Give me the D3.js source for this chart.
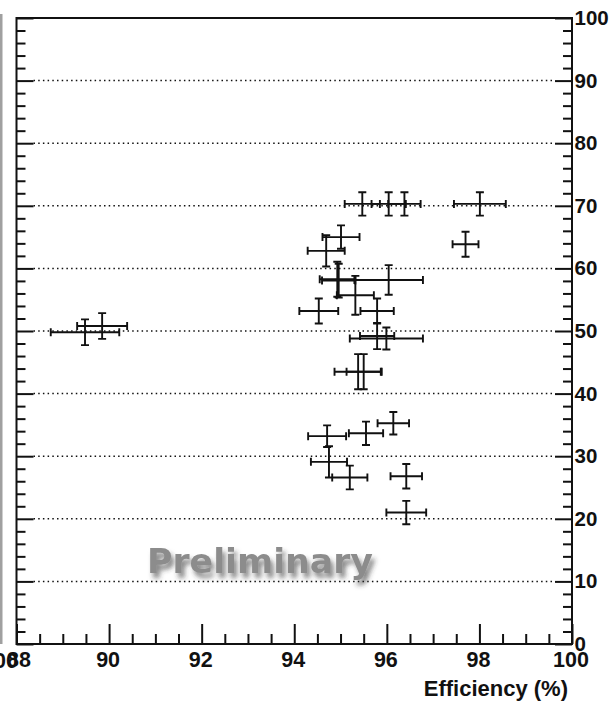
<!DOCTYPE html>
<html>
<head>
<meta charset="utf-8">
<script src="https://cdn.jsdelivr.net/npm/d3@7"></script>
<style>
  html, body { margin: 0; padding: 0; background: #fff; overflow: hidden; }
  svg { display: block; }
  .tick text { font-family: "Liberation Sans", Arial, sans-serif; font-weight: bold; font-size: 21.5px; fill: #111; }
  .yaxis .tick text { font-size: 20.5px; }
</style>
</head>
<body>
<svg id="chart" width="610" height="702"></svg>
<script>
// Efficiency measurements with their uncertainties
const effX = [95.47, 96.04, 96.38, 98.01, 97.70, 95.01, 94.69, 94.93, 94.96, 96.04, 95.32, 95.79, 94.53, 95.79, 95.99, 95.38, 95.50, 89.48, 89.85, 94.71, 95.55, 96.14, 94.75, 95.20, 96.42, 96.42];
const effY = [70.3, 70.3, 70.3, 70.3, 63.85, 65.0, 62.8, 58.26, 58.05, 58.15, 55.7, 53.2, 53.2, 49.2, 48.8, 43.5, 43.5, 49.8, 50.8, 33.2, 33.66, 35.26, 29.1, 26.6, 26.8, 21.0];
const errX = [0.38, 0.37, 0.35, 0.56, 0.28, 0.40, 0.40, 0.38, 0.36, 0.74, 0.40, 0.36, 0.42, 0.37, 0.79, 0.51, 0.37, 0.74, 0.54, 0.41, 0.37, 0.34, 0.39, 0.38, 0.34, 0.43];
const errY = [1.87, 1.87, 1.87, 1.87, 2.0, 1.87, 2.5, 2.8, 2.7, 2.37, 3.1, 2.0, 2.0, 2.1, 1.75, 2.8, 2.8, 2.05, 2.05, 1.73, 1.86, 1.8, 2.5, 1.9, 1.95, 1.86];

const xMajorTicks = [88, 90, 92, 94, 96, 98, 100];
const yMajorTicks = [0, 10, 20, 30, 40, 50, 60, 70, 80, 90, 100];
const gridValues = [10, 20, 30, 40, 50, 60, 70, 80, 90];
const xTitle = "Efficiency (%)";
const stamp = "Preliminary";

const svg = d3.select("#chart");
const x = d3.scaleLinear().domain([88, 100]).range([16.5, 572]);
const y = d3.scaleLinear().domain([0, 100]).range([644, 18]);

// edge of the neighbouring panel and its last axis label
svg.append("rect").attr("x", 0).attr("y", 14).attr("width", 2.5).attr("height", 630)
  .attr("fill", "#a0a0a0");
svg.append("text").attr("x", 0).attr("y", 668)
  .attr("text-anchor", "middle")
  .style("font-family", "Liberation Sans, Arial, sans-serif").style("font-weight", "bold")
  .style("font-size", "21.5px").attr("fill", "#111").text("100");

// dotted grid
svg.append("g").selectAll("line").data(gridValues).join("line")
  .attr("x1", x(88) + 17).attr("x2", x(100) - 17)
  .attr("y1", d => y(d)).attr("y2", d => y(d))
  .attr("stroke", "#111").attr("stroke-width", 1.5)
  .attr("stroke-dasharray", "1.5 3.2");

const minorX = d3.range(88, 100.01, 0.5).filter(v => Math.abs(v % 2) > 1e-6);
const minorY = d3.range(0, 100.01, 2).filter(v => v % 10 !== 0);

function styleAxis(g) {
  g.select(".domain").remove();
  g.selectAll(".tick line").attr("stroke", "#111").attr("stroke-width", 2);
}

// bottom axis
svg.append("g").attr("transform", `translate(0,${y(0)})`)
  .call(d3.axisBottom(x).tickValues(xMajorTicks).tickSizeInner(-20).tickSizeOuter(0)
    .tickPadding(8).tickFormat(d3.format("d")))
  .call(styleAxis)
  .call(g => g.selectAll(".tick text").attr("dx", d => d === 88 ? 2 : -1.5));
svg.append("g").attr("transform", `translate(0,${y(0)})`)
  .call(d3.axisBottom(x).tickValues(minorX).tickSizeInner(-10).tickSizeOuter(0).tickFormat(""))
  .call(styleAxis);

// left axis (ticks only)
svg.append("g").attr("transform", `translate(${x(88)},0)`)
  .call(d3.axisLeft(y).tickValues(yMajorTicks).tickSizeInner(-17).tickSizeOuter(0).tickFormat(""))
  .call(styleAxis);
svg.append("g").attr("transform", `translate(${x(88)},0)`)
  .call(d3.axisLeft(y).tickValues(minorY).tickSizeInner(-9).tickSizeOuter(0).tickFormat(""))
  .call(styleAxis);

// right axis with labels
svg.append("g").attr("class", "yaxis").attr("transform", `translate(${x(100)},0)`)
  .call(d3.axisRight(y).tickValues(yMajorTicks).tickSizeInner(-17).tickSizeOuter(0)
    .tickPadding(2.5).tickFormat(d3.format("d")))
  .call(styleAxis);
svg.append("g").attr("transform", `translate(${x(100)},0)`)
  .call(d3.axisRight(y).tickValues(minorY).tickSizeInner(-9).tickSizeOuter(0).tickFormat(""))
  .call(styleAxis);

// frame
svg.append("rect")
  .attr("x", x(88)).attr("y", y(100))
  .attr("width", x(100) - x(88)).attr("height", y(0) - y(100))
  .attr("fill", "none").attr("stroke", "#111").attr("stroke-width", 2);

// axis title
svg.append("text").attr("x", x(100) - 4).attr("y", 696)
  .attr("text-anchor", "end")
  .style("font-family", "Liberation Sans, Arial, sans-serif").style("font-weight", "bold")
  .style("font-size", "22px").attr("fill", "#111").text(xTitle);

// error-bar crosses
const points = effX.map((v, i) => ({ x: v, y: effY[i], ex: errX[i], ey: errY[i] }));
const capW = 4;
const pg = svg.append("g").attr("stroke", "#111").attr("stroke-width", 1.9).attr("fill", "none");
points.forEach(p => {
  const cx = x(p.x), cy = y(p.y);
  const xl = x(p.x - p.ex), xr = x(p.x + p.ex);
  const yt = y(p.y + p.ey), yb = y(p.y - p.ey);
  const path = d3.path();
  path.moveTo(xl, cy); path.lineTo(xr, cy);
  path.moveTo(cx, yt); path.lineTo(cx, yb);
  path.moveTo(xl, cy - capW); path.lineTo(xl, cy + capW);
  path.moveTo(xr, cy - capW); path.lineTo(xr, cy + capW);
  path.moveTo(cx - capW, yt); path.lineTo(cx + capW, yt);
  path.moveTo(cx - capW, yb); path.lineTo(cx + capW, yb);
  pg.append("path").attr("d", path.toString());
});

// stamp with soft shadow
const defs = svg.append("defs");
const f = defs.append("filter").attr("id", "shadow")
  .attr("x", "-10%").attr("y", "-30%").attr("width", "130%").attr("height", "180%");
f.append("feDropShadow").attr("dx", 3).attr("dy", 5).attr("stdDeviation", 2.8)
  .attr("flood-color", "#333").attr("flood-opacity", 0.6);
svg.append("text").attr("x", 147).attr("y", 573)
  .attr("textLength", 226).attr("lengthAdjust", "spacingAndGlyphs")
  .style("font-family", "DejaVu Sans, sans-serif").style("font-weight", "bold")
  .style("font-size", "33px").attr("fill", "#8c8c8c")
  .attr("filter", "url(#shadow)").text(stamp);
</script>
</body>
</html>
